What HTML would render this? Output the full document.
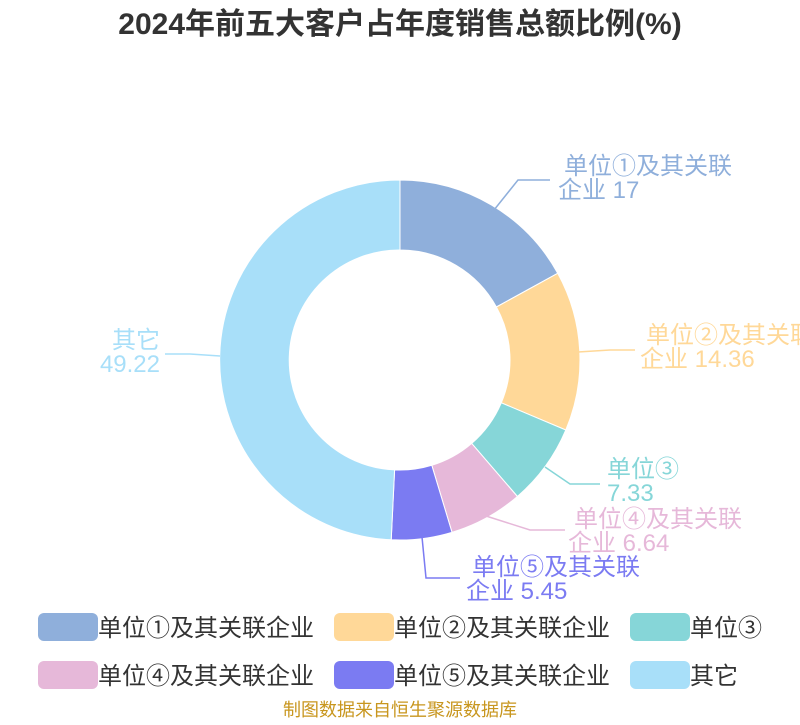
<!DOCTYPE html>
<html><head><meta charset="utf-8"><style>
body{margin:0;background:#fff;width:800px;height:720px;overflow:hidden}
text{font-family:"Liberation Sans","Noto Sans CJK SC",sans-serif}
</style></head><body>
<svg width="800" height="720" viewBox="0 0 800 720" xmlns="http://www.w3.org/2000/svg">
<text x="400" y="34" text-anchor="middle" font-size="30" font-weight="bold" fill="#333">2024年前五大客户占年度销售总额比例(%)</text>
<g stroke="#fff" stroke-width="1">
<path d="M400,180 A180,180 0 0 1 557.7,273.3 L496.4,307 A110,110 0 0 0 400,250 Z" fill="#8fafdb"/>
<path d="M557.7,273.3 A180,180 0 0 1 565.8,430 L501.3,402.8 A110,110 0 0 0 496.4,307 Z" fill="#ffd898"/>
<path d="M565.8,430 A180,180 0 0 1 517.4,496.5 L471.7,443.4 A110,110 0 0 0 501.3,402.8 Z" fill="#86d6d8"/>
<path d="M517.4,496.5 A180,180 0 0 1 452,532.3 L431.8,465.3 A110,110 0 0 0 471.7,443.4 Z" fill="#e6b8d9"/>
<path d="M452,532.3 A180,180 0 0 1 391.2,539.8 L394.6,469.9 A110,110 0 0 0 431.8,465.3 Z" fill="#7b7bf2"/>
<path d="M391.2,539.8 A180,180 0 0 1 400,180 L400,250 A110,110 0 0 0 394.6,469.9 Z" fill="#a8dff9"/>
</g>
<g fill="none" stroke-width="1.5">
<polyline points="490,215 518,180 550,180" stroke="#8fafdb"/>
<polyline points="578,352 610,350 635,350" stroke="#ffd898"/>
<polyline points="545,467 570,484 600,484" stroke="#86d6d8"/>
<polyline points="486,516 530,530 565,530" stroke="#e6b8d9"/>
<polyline points="422,537 426,578 460,578" stroke="#7b7bf2"/>
<polyline points="220,356 190,354 165,354" stroke="#a8dff9"/>
</g>
<g font-size="24">
<text x="564" y="174" fill="#8fafdb">单位①及其关联</text><text x="558" y="198" fill="#8fafdb">企业 17</text>
<text x="646" y="343" fill="#ffd898">单位②及其关联</text><text x="640" y="367" fill="#ffd898">企业 14.36</text>
<text x="607" y="477" fill="#86d6d8">单位③</text><text x="607" y="501" fill="#86d6d8">7.33</text>
<text x="574" y="527" fill="#e6b8d9">单位④及其关联</text><text x="568" y="551" fill="#e6b8d9">企业 6.64</text>
<text x="472" y="575" fill="#7b7bf2">单位⑤及其关联</text><text x="466" y="599" fill="#7b7bf2">企业 5.45</text>
<text x="160" y="348" text-anchor="end" fill="#a8dff9">其它</text><text x="160" y="372" text-anchor="end" fill="#a8dff9">49.22</text>
</g>
<g font-size="24" fill="#333">
<rect x="38" y="613" width="60" height="28" rx="6" fill="#8fafdb"/><text x="98" y="636">单位①及其关联企业</text>
<rect x="334" y="613" width="60" height="28" rx="6" fill="#ffd898"/><text x="394" y="636">单位②及其关联企业</text>
<rect x="630" y="613" width="60" height="28" rx="6" fill="#86d6d8"/><text x="690" y="636">单位③</text>
<rect x="38" y="661" width="60" height="28" rx="6" fill="#e6b8d9"/><text x="98" y="684">单位④及其关联企业</text>
<rect x="334" y="661" width="60" height="28" rx="6" fill="#7b7bf2"/><text x="394" y="684">单位⑤及其关联企业</text>
<rect x="630" y="661" width="60" height="28" rx="6" fill="#a8dff9"/><text x="690" y="684">其它</text>
</g>
<text x="400" y="716" text-anchor="middle" font-size="18" fill="#c8961e">制图数据来自恒生聚源数据库</text>
</svg>
</body></html>
